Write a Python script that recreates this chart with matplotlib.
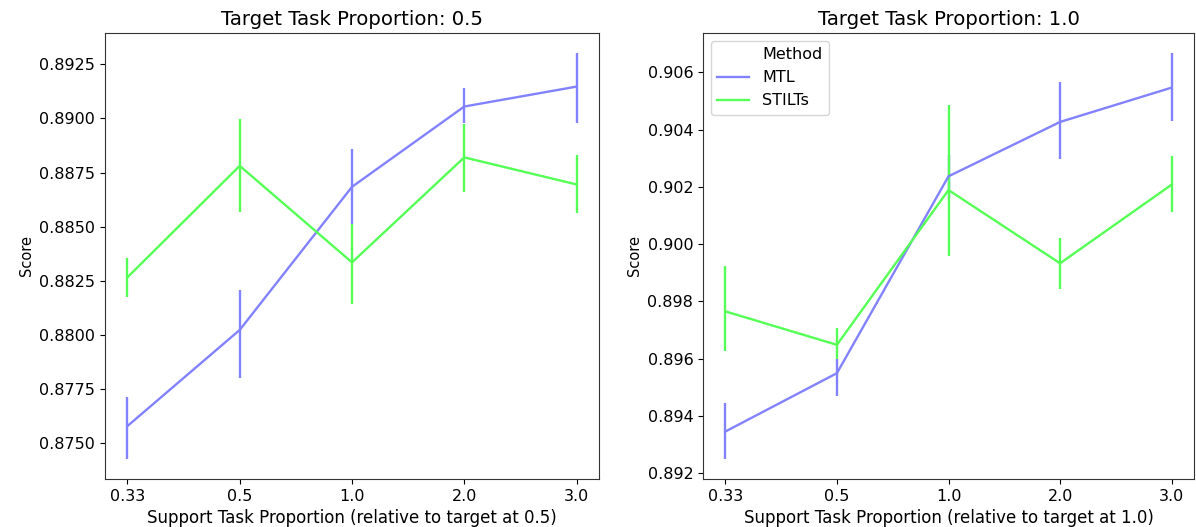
import matplotlib
matplotlib.use("Agg")
import matplotlib.pyplot as plt
from matplotlib.lines import Line2D
import numpy as np

# ====== DATA ======
support_labels = ["0.33", "0.5", "1.0", "2.0", "3.0"]
target_props = ["0.5", "1.0"]

# target 0.5
mtl_05 = [0.87579, 0.88023, 0.88684, 0.89055, 0.89147]
mtl_05_lo = [0.87428, 0.87800, 0.88512, 0.88978, 0.88978]
mtl_05_hi = [0.87713, 0.88209, 0.88861, 0.89142, 0.89301]
stilts_05 = [0.88266, 0.88781, 0.88335, 0.88820, 0.88695]
stilts_05_lo = [0.88174, 0.88569, 0.88143, 0.88661, 0.88561]
stilts_05_hi = [0.88355, 0.88996, 0.88512, 0.88976, 0.88832]

# target 1.0
mtl_10 = [0.89345, 0.89549, 0.90237, 0.90427, 0.90547]
mtl_10_lo = [0.89250, 0.89469, 0.90160, 0.90297, 0.90429]
mtl_10_hi = [0.89444, 0.89599, 0.90310, 0.90565, 0.90667]
stilts_10 = [0.89765, 0.89648, 0.90189, 0.89933, 0.90208]
stilts_10_lo = [0.89626, 0.89599, 0.89957, 0.89843, 0.90111]
stilts_10_hi = [0.89925, 0.89706, 0.90487, 0.90021, 0.90309]

MTL_COLOR = "#8282ff"
STILTS_COLOR = "#55ff55"

plt.rcParams["font.size"] = 11.5

fig = plt.figure(figsize=(11.96, 5.27), dpi=100)
W, H = 1196, 527
ax1 = fig.add_axes([105 / W, 1 - 479 / H, 494 / W, 446 / H])
ax2 = fig.add_axes([703 / W, 1 - 479 / H, 491 / W, 446 / H])

panels = [
    (ax1, "0.5", (mtl_05, mtl_05_lo, mtl_05_hi), (stilts_05, stilts_05_lo, stilts_05_hi)),
    (ax2, "1.0", (mtl_10, mtl_10_lo, mtl_10_hi), (stilts_10, stilts_10_lo, stilts_10_hi)),
]

x = np.arange(len(support_labels))

for ax, tp, mtl, stilts in panels:
    for (vals, lo, hi), color in [(mtl, MTL_COLOR), (stilts, STILTS_COLOR)]:
        vals = np.array(vals)
        err = [vals - np.array(lo), np.array(hi) - vals]
        ax.errorbar(x, vals, yerr=err, color=color, lw=1.7, elinewidth=1.7, capsize=0)
    ax.set_xticks(x)
    ax.set_xticklabels(support_labels)
    ax.set_title("Target Task Proportion: " + tp, fontsize=14.2)
    ax.set_xlabel("Support Task Proportion (relative to target at " + tp + ")", fontsize=12)
    ax.set_ylabel("Score", fontsize=10.5)
    ax.tick_params(labelsize=11.5)
    for s in ax.spines.values():
        s.set_color("#333333")

ax1.set_yticks([0.875, 0.8775, 0.88, 0.8825, 0.885, 0.8875, 0.89, 0.8925])
ax1.set_yticklabels(["%.4f" % v for v in [0.875, 0.8775, 0.88, 0.8825, 0.885, 0.8875, 0.89, 0.8925]])

handles = [
    Line2D([], [], color="none"),
    Line2D([], [], color=MTL_COLOR, lw=1.7),
    Line2D([], [], color=STILTS_COLOR, lw=1.7),
]
ax2.legend(handles, ["Method", "MTL", "STILTs"], loc="upper left", fontsize=11.5)

fig.savefig("out.png", dpi=100)
